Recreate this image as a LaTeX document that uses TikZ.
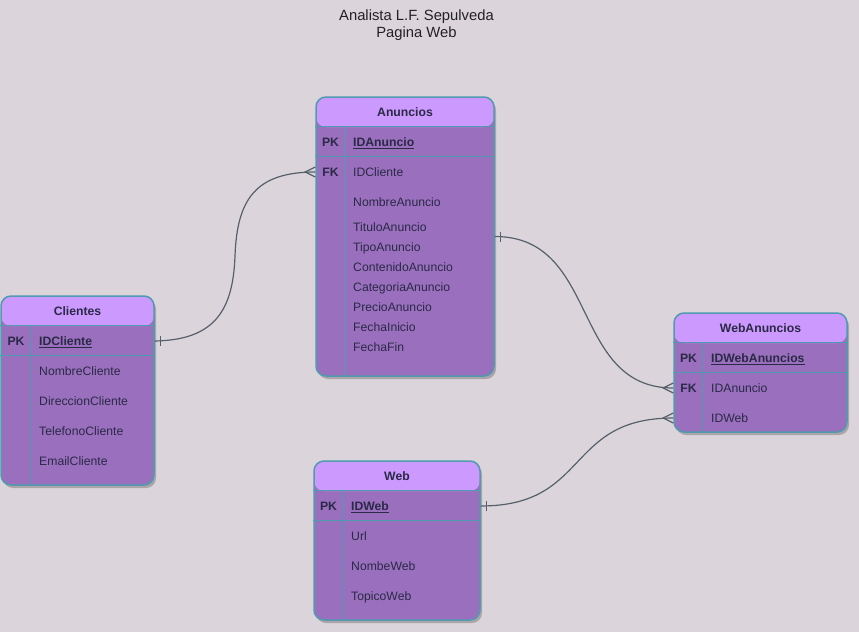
\documentclass[tikz,border=0pt]{standalone}
\usepackage{fontspec}
\setmainfont{Liberation Sans}
\usetikzlibrary{shadows}
\definecolor{bgc}{HTML}{DCD4DB}
\definecolor{headc}{HTML}{CC99FF}
\definecolor{bodyc}{HTML}{9A70BE}
\definecolor{bordc}{HTML}{4F9BAF}
\definecolor{txtc}{HTML}{2A2946}
\definecolor{connc}{HTML}{56606A}
\definecolor{titc}{HTML}{222222}
\begin{document}
\begin{tikzpicture}[x=1pt,y=-1pt,
 tbl/.style={draw=bordc, line width=1.5pt, rounded corners=10pt, fill=bodyc, inner sep=0pt,
   drop shadow={shadow xshift=2pt,shadow yshift=-3pt,opacity=0.22,fill=black},
   path picture={\fill[headc] (path picture bounding box.north west) rectangle ([yshift=-30pt]path picture bounding box.north east);}},
 sep/.style={draw=bordc, line width=1.2pt},
 txtbase/.style={text=txtc, inner sep=0pt, text height=8.8pt, text depth=0pt},
 hdr/.style={txtbase, font=\bfseries\fontsize{12.2}{14}\selectfont},
 keyl/.style={txtbase, font=\bfseries\fontsize{12.2}{14}\selectfont},
 fld/.style={txtbase, anchor=west, font=\fontsize{12.2}{14}\selectfont},
 conn/.style={draw=connc, line width=1.2pt},
 ]
\fill[bgc] (0,0) rectangle (859,632);
\useasboundingbox (0,0) rectangle (859,632);

% title
\node[font=\fontsize{14.8}{17}\selectfont, align=center, text=titc, inner sep=0pt] (title) at (416.5,25.5) {Analista L.F. Sepulveda\\Pagina Web};

% ---------- Anuncios
\node[tbl, minimum width=178pt, minimum height=279pt] (anuncios) at (405,236.5) {};
\draw[sep] ([yshift=-30pt]anuncios.north west) -- ([yshift=-30pt]anuncios.north east);
\draw[sep] ([yshift=-60pt]anuncios.north west) -- ([yshift=-60pt]anuncios.north east);
\draw[sep] ([xshift=29pt,yshift=-30pt]anuncios.north west) -- ([xshift=29pt]anuncios.south west);
\node[hdr] (anT) at (405,112) {Anuncios};
\node[keyl] (anPK) at (330.5,142) {PK};
\node[keyl] (anFK) at (330.5,172) {FK};
\node[fld] (anF1) at (353,142) {\bfseries\underline{IDAnuncio}};
\node[fld] (anF2) at (353,172) {IDCliente};
\node[fld] (anF3) at (353,202) {NombreAnuncio};
\node[fld] (anF4) at (353,227) {TituloAnuncio};
\node[fld] (anF5) at (353,247) {TipoAnuncio};
\node[fld] (anF6) at (353,267) {ContenidoAnuncio};
\node[fld] (anF7) at (353,287) {CategoriaAnuncio};
\node[fld] (anF8) at (353,307) {PrecioAnuncio};
\node[fld] (anF9) at (353,327) {FechaInicio};
\node[fld] (anF10) at (353,347) {FechaFin};

% ---------- Clientes
\node[tbl, minimum width=153pt, minimum height=189pt] (clientes) at (77.5,390.5) {};
\draw[sep] ([yshift=-30pt]clientes.north west) -- ([yshift=-30pt]clientes.north east);
\draw[sep] ([yshift=-60pt]clientes.north west) -- ([yshift=-60pt]clientes.north east);
\draw[sep] ([xshift=30pt,yshift=-30pt]clientes.north west) -- ([xshift=30pt]clientes.south west);
\node[hdr] (cliT) at (77.5,311) {Clientes};
\node[keyl] (cliPK) at (16,341) {PK};
\node[fld] (cliF1) at (39,341) {\bfseries\underline{IDCliente}};
\node[fld] (cliF2) at (39,371) {NombreCliente};
\node[fld] (cliF3) at (39,401) {DireccionCliente};
\node[fld] (cliF4) at (39,431) {TelefonoCliente};
\node[fld] (cliF5) at (39,461) {EmailCliente};

% ---------- WebAnuncios
\node[tbl, minimum width=173pt, minimum height=119pt] (webanuncios) at (760.5,372.5) {};
\draw[sep] ([yshift=-30pt]webanuncios.north west) -- ([yshift=-30pt]webanuncios.north east);
\draw[sep] ([yshift=-60pt]webanuncios.north west) -- ([yshift=-60pt]webanuncios.north east);
\draw[sep] ([xshift=29pt,yshift=-30pt]webanuncios.north west) -- ([xshift=29pt]webanuncios.south west);
\node[hdr] (waT) at (760.5,328) {WebAnuncios};
\node[keyl] (waPK) at (688.5,358) {PK};
\node[keyl] (waFK) at (688.5,388) {FK};
\node[fld] (waF1) at (711,358) {\bfseries\underline{IDWebAnuncios}};
\node[fld] (waF2) at (711,388) {IDAnuncio};
\node[fld] (waF3) at (711,418) {IDWeb};

% ---------- Web
\node[tbl, minimum width=166pt, minimum height=159pt] (web) at (397,540.5) {};
\draw[sep] ([yshift=-30pt]web.north west) -- ([yshift=-30pt]web.north east);
\draw[sep] ([yshift=-60pt]web.north west) -- ([yshift=-60pt]web.north east);
\draw[sep] ([xshift=29pt,yshift=-30pt]web.north west) -- ([xshift=29pt]web.south west);
\node[hdr] (webT) at (397,476) {Web};
\node[keyl] (webPK) at (328.5,506) {PK};
\node[fld] (webF1) at (351,506) {\bfseries\underline{IDWeb}};
\node[fld] (webF2) at (351,536) {Url};
\node[fld] (webF3) at (351,566) {NombeWeb};
\node[fld] (webF4) at (351,596) {TopicoWeb};

% ---------- connector end points
\coordinate (cliOne) at (clientes.east |- cliF1);
\coordinate (anMany) at (anuncios.west |- anF2);
\coordinate (anOne) at (anuncios.east);
\coordinate (waMany1) at (webanuncios.west |- waF2);
\coordinate (waMany2) at (webanuncios.west |- waF3);
\coordinate (webOne) at (web.east |- webF1);

% ---------- connectors
\draw[conn] (cliOne) .. controls (215,340) and (233,310) .. (235,256) .. controls (237,200) and (255,172) .. (anMany);
\draw[conn] (anOne) .. controls (600,236.5) and (570,388) .. (waMany1);
\draw[conn] (webOne) .. controls (590,506) and (565,418) .. (waMany2);

% one marks
\draw[conn] ([xshift=6pt,yshift=5pt]cliOne) -- ([xshift=6pt,yshift=-5pt]cliOne);
\draw[conn] ([xshift=6pt,yshift=5pt]anOne) -- ([xshift=6pt,yshift=-5pt]anOne);
\draw[conn] ([xshift=6pt,yshift=5pt]webOne) -- ([xshift=6pt,yshift=-5pt]webOne);
% many marks
\draw[conn] ([yshift=5pt]anMany) -- ([xshift=-10pt]anMany) -- ([yshift=-5pt]anMany);
\draw[conn] ([yshift=5pt]waMany1) -- ([xshift=-10pt]waMany1) -- ([yshift=-5pt]waMany1);
\draw[conn] ([yshift=5pt]waMany2) -- ([xshift=-10pt]waMany2) -- ([yshift=-5pt]waMany2);
\end{tikzpicture}
\end{document}
